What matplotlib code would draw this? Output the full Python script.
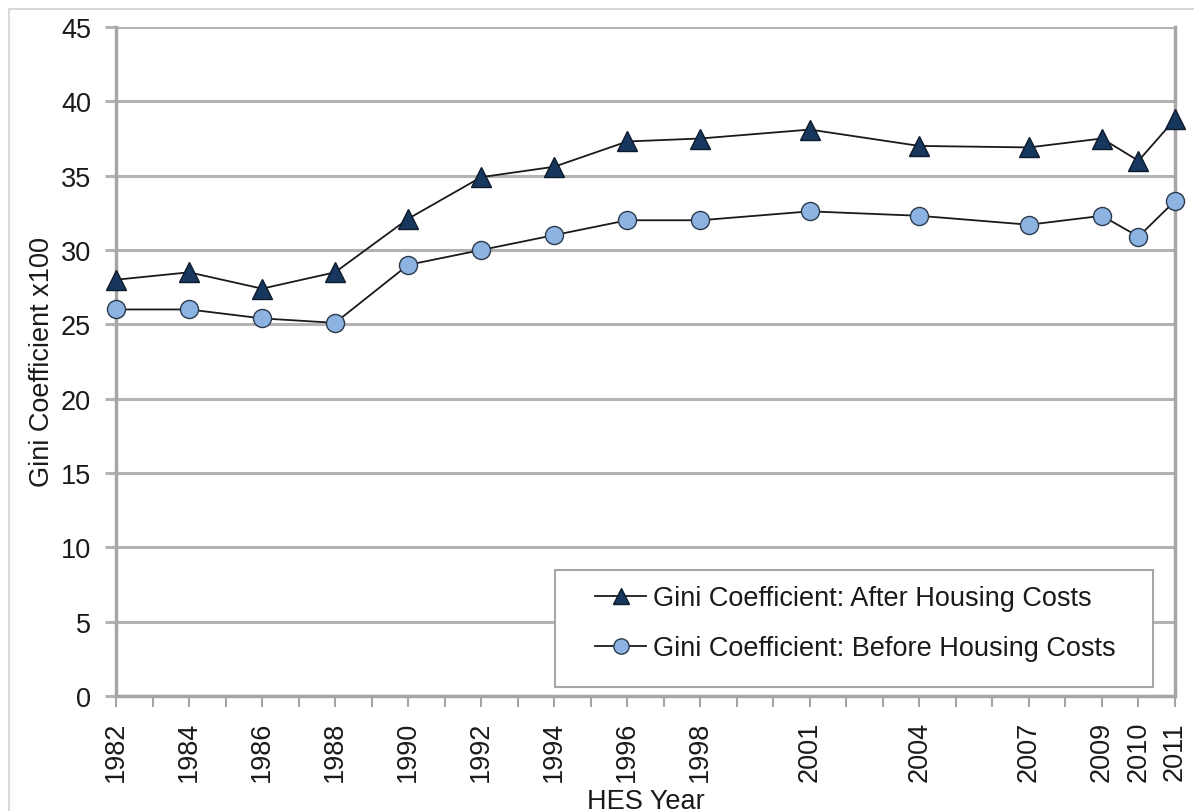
import matplotlib
matplotlib.use("Agg")
from matplotlib import pyplot as plt
from matplotlib.ticker import MultipleLocator
from matplotlib.lines import Line2D

plt.rcParams["font.family"] = ["Liberation Sans", "DejaVu Sans"]

years = [1982, 1984, 1986, 1988, 1990, 1992, 1994, 1996, 1998,
         2001, 2004, 2007, 2009, 2010, 2011]
after_hc = [28.0, 28.5, 27.4, 28.5, 32.1, 34.9, 35.6, 37.3, 37.5,
            38.1, 37.0, 36.9, 37.5, 36.0, 38.8]
before_hc = [26.0, 26.0, 25.4, 25.1, 29.0, 30.0, 31.0, 32.0, 32.0,
             32.6, 32.3, 31.7, 32.3, 30.9, 33.3]
yticks = [0, 5, 10, 15, 20, 25, 30, 35, 40, 45]

txt = "#1a1a1a"
grey = "#a6a6a6"
fs = 19.5

fig = plt.figure(figsize=(11.94, 8.12), dpi=100)
# light frame round the chart area (only left/top edges visible)
fig.add_artist(plt.Rectangle((9 / 1194, -0.1), 1.2, 1 - 10 / 812 + 0.1,
                             transform=fig.transFigure, fill=False,
                             edgecolor="#d9d9d9", linewidth=1.5))

ax = fig.add_axes([116 / 1194, 1 - 697 / 812, (1175 - 116) / 1194, (697 - 28) / 812])

ax.plot(years, after_hc, color="#1a1a1a", linewidth=1.3, marker="^",
        markersize=15, markerfacecolor="#17375e", markeredgecolor="#0d1a2b",
        markeredgewidth=1.0, zorder=4, clip_on=False)
ax.plot(years, before_hc, color="#1a1a1a", linewidth=1.3, marker="o",
        markersize=13, markerfacecolor="#8db3e2", markeredgecolor="#2b3a4a",
        markeredgewidth=1.0, zorder=4, clip_on=False)

ax.set_xlim(1982, 2011)
ax.set_ylim(0, 45)
ax.set_yticks(yticks)
ax.set_xticks(years)
ax.set_xticklabels([str(y) for y in years], rotation=90)
ax.xaxis.set_minor_locator(MultipleLocator(1))

ax.grid(axis="y", color="#b3b3b3", linewidth=2.2)
ax.set_axisbelow(True)
for side in ["left", "bottom", "right"]:
    ax.spines[side].set_color(grey)
    ax.spines[side].set_linewidth(2.5)
ax.spines["top"].set_visible(False)

ax.tick_params(axis="y", direction="out", length=8, width=2.2, color="#b3b3b3",
               labelsize=fs, labelcolor=txt, pad=10)
ax.tick_params(axis="x", which="both", direction="out", length=8, width=1.5,
               color=grey, labelsize=fs, labelcolor=txt, pad=10)
ax.tick_params(axis="x", which="minor", labelbottom=False)

ax.set_ylabel("Gini Coefficient x100", fontsize=fs, color=txt, labelpad=4)
ax.set_xlabel("HES Year", fontsize=fs, color=txt, labelpad=5)

# legend frame drawn separately so the inner padding can match
fig.add_artist(plt.Rectangle((555 / 1194, 1 - 688 / 812), (1153 - 555) / 1194,
                             (688 - 571) / 812, transform=fig.transFigure,
                             facecolor="white", edgecolor=grey, linewidth=1.5,
                             zorder=5))
handles = [
    Line2D([], [], color="#1a1a1a", linewidth=1.3, marker="^", markersize=12,
           markerfacecolor="#17375e", markeredgecolor="#0d1a2b"),
    Line2D([], [], color="#1a1a1a", linewidth=1.3, marker="o", markersize=11,
           markerfacecolor="#8db3e2", markeredgecolor="#2b3a4a"),
]
leg = fig.legend(handles, ["Gini Coefficient: After Housing Costs",
                           "Gini Coefficient: Before Housing Costs"],
                 loc="upper left", bbox_to_anchor=(595 / 1194, 1 - 586 / 812),
                 fontsize=fs, frameon=False, borderpad=0,
                 handlelength=1.9, handletextpad=0.25, labelspacing=0.9,
                 borderaxespad=0)
leg.set_zorder(6)
for t in leg.get_texts():
    t.set_color(txt)

plt.savefig("out.png", dpi=100)
plt.close()
